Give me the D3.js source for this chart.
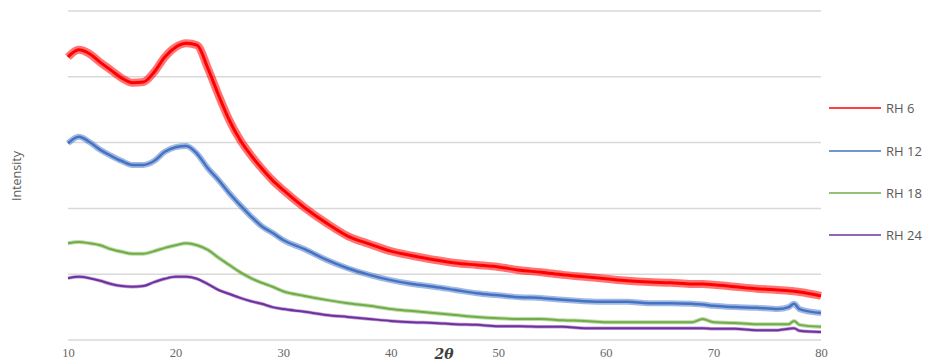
<!DOCTYPE html>
<html><head><meta charset="utf-8">
<script src="https://cdn.jsdelivr.net/npm/d3@7"></script>
<style>body{margin:0;background:#fff}svg{display:block}</style>
</head><body>
<svg id="c" width="927" height="364"></svg>
<script>
const twoTheta = [10,11,12,13,14,15,16,17,18,19,20,21,22,23,24,25,26,27,28,29,30,32,34,36,38,40,42,44,46,48,50,52,54,56,58,60,62,64,66,68,69,70,72,74,76,77,77.5,78,80];
const rh6  = [4.30,4.41,4.35,4.22,4.10,3.98,3.91,3.92,4.07,4.30,4.45,4.51,4.48,4.13,3.72,3.34,3.04,2.81,2.61,2.43,2.28,2.01,1.78,1.58,1.46,1.35,1.28,1.22,1.17,1.14,1.11,1.06,1.03,0.99,0.96,0.93,0.90,0.88,0.87,0.85,0.85,0.84,0.81,0.78,0.76,0.75,0.74,0.73,0.67];
const rh12 = [2.99,3.09,3.01,2.89,2.80,2.72,2.66,2.66,2.72,2.86,2.93,2.95,2.83,2.61,2.43,2.23,2.05,1.88,1.73,1.63,1.52,1.38,1.22,1.09,0.99,0.91,0.85,0.81,0.76,0.71,0.68,0.65,0.64,0.61,0.59,0.58,0.58,0.56,0.56,0.55,0.54,0.52,0.50,0.49,0.47,0.50,0.55,0.47,0.41];
const rh18 = [1.47,1.49,1.47,1.44,1.38,1.34,1.31,1.31,1.35,1.40,1.44,1.47,1.44,1.37,1.25,1.14,1.03,0.94,0.87,0.81,0.74,0.67,0.61,0.56,0.52,0.47,0.44,0.41,0.38,0.35,0.33,0.32,0.32,0.30,0.29,0.27,0.27,0.27,0.27,0.27,0.32,0.27,0.26,0.24,0.24,0.24,0.29,0.23,0.20];
const rh24 = [0.94,0.96,0.94,0.90,0.85,0.82,0.81,0.82,0.88,0.93,0.96,0.96,0.93,0.85,0.76,0.70,0.64,0.59,0.55,0.50,0.47,0.43,0.38,0.35,0.32,0.29,0.27,0.26,0.24,0.23,0.21,0.21,0.20,0.20,0.18,0.18,0.18,0.18,0.18,0.18,0.18,0.17,0.17,0.15,0.15,0.17,0.18,0.14,0.12];
const seriesNames = ["RH 6","RH 12","RH 18","RH 24"];
const seriesColors = ["#FF0000","#4472C4","#70AD47","#7030A0"];
const xTicks = [10,20,30,40,50,60,70,80];
const yTicks = [0,1,2,3,4,5];

const series = [rh6,rh12,rh18,rh24].map((v,i)=>({name:seriesNames[i],color:seriesColors[i],values:v}));
const svg = d3.select("#c");
const x = d3.scaleLinear().domain([10,80]).range([68,821]);
const y = d3.scaleLinear().domain([0,5]).range([340,11]);

// gridlines
svg.append("g").selectAll("line").data(yTicks).join("line")
  .attr("x1",68).attr("x2",821).attr("y1",d=>y(d)).attr("y2",d=>y(d))
  .attr("stroke","#d9d9d9").attr("stroke-width",1.5);

// x axis labels
const xa = svg.append("g").attr("transform","translate(0,346)")
  .call(d3.axisBottom(x).tickValues(xTicks).tickSize(0).tickPadding(2).tickFormat(d3.format("d")));
xa.select(".domain").remove();
xa.selectAll("text").attr("font-family","Liberation Serif, serif").attr("font-size",12.5).attr("fill","#666666");

const line = d3.line().x((d,i)=>x(twoTheta[i])).y(d=>y(d)).curve(d3.curveMonotoneX);
const widths = [[8,3],[6,2.5],[4,2],[3.5,2]];
const halo = [0.55,0.5,0.45,0.45];
series.forEach((s,i)=>{
  svg.append("path").datum(s.values).attr("d",line).attr("fill","none")
    .attr("stroke",s.color).attr("stroke-opacity",halo[i]).attr("stroke-width",widths[i][0]).attr("stroke-linejoin","round");
  svg.append("path").datum(s.values).attr("d",line).attr("fill","none")
    .attr("stroke",s.color).attr("stroke-width",widths[i][1]).attr("stroke-linejoin","round");
});

// axis titles
svg.append("text").attr("transform","translate(21,176) rotate(-90)").attr("text-anchor","middle")
  .attr("font-family","Open Sans, sans-serif").attr("font-size",12.5).attr("fill","#595959").text("Intensity");
svg.append("text").attr("x",444).attr("y",359).attr("text-anchor","middle")
  .attr("font-family","DejaVu Serif, serif").attr("font-weight","bold").attr("font-style","italic")
  .attr("font-size",14).attr("fill","#404040").text("2θ");

// legend
const lg = svg.append("g");
const ly = [108,151,193,235];
series.forEach((s,i)=>{
  lg.append("line").attr("x1",829).attr("x2",881).attr("y1",ly[i]).attr("y2",ly[i])
    .attr("stroke",s.color).attr("stroke-width",1.5);
  lg.append("text").attr("x",886).attr("y",ly[i]+4.5).attr("font-family","Open Sans, sans-serif")
    .attr("font-size",13).attr("fill","#595959").text(s.name);
});
</script>
</body></html>
